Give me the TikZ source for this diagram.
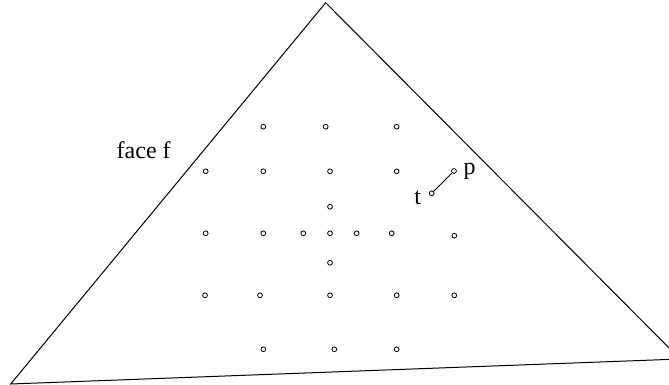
\documentclass[tikz,border=0pt]{standalone}
\usepackage{fontspec}
\setmainfont{Liberation Serif}
\newfontfamily\labfont{Liberation Serif}
\usepackage{tikz}
\usetikzlibrary{positioning}

\begin{document}
\begin{tikzpicture}[
            x=0.5pt,
            y=-0.5pt,
            pt/.style={
                circle,
                draw=black,
                line width=0.4pt,
                minimum size=2.4pt,
                inner sep=0pt
            },
            edge/.style={
                draw=black,
                line width=0.5pt
            },
            lab/.style={
                font=\labfont\fontsize{12}{14}\selectfont,
                inner sep=0pt
            }
        ]

            \useasboundingbox (0,0) rectangle (669,385);
            \clip (0,0) rectangle (669,385);

            % Face
            \coordinate (top) at (325.7,2.7);
            \coordinate (bl) at (10.7,384);
            \coordinate (br) at (680,359);
            \draw[edge] (top) -- (bl) -- (br) -- cycle;

            % Sample points
            \foreach \x/\y in {263.3/126.7, 325.7/126.7, 396.7/126.7,
                               205.7/171.3, 263.3/171.3, 330/171.3, 396.7/171.3,
                               330/206.7,
                               205.7/233.3, 263.3/233.3, 303.3/233.3, 330/233.3, 356.7/233.3, 391.7/233.3, 454.3/235.7,
                               330/262.7,
                               205/295.3, 260/295.3, 330/295.3, 396.7/295.3, 454.3/295.3,
                               263.3/349.3, 334.3/349.3, 396.7/349.3}
                \node[pt] at (\x,\y) {};

            % Points p and t
            \node[pt] (p) at (454,171) {};
            \node[pt] (t) at (431.7,193.3) {};
            \draw[edge] (t) -- (p);

            % Labels
            \node[lab, anchor=base] (facelab) at (143.7,158) {face f};
            \node[lab, anchor=base west] (plab) at (463.3,174) {p};
            \node[lab, anchor=base west] (tlab) at (414,204.3) {t};

        \end{tikzpicture}
\end{document}
